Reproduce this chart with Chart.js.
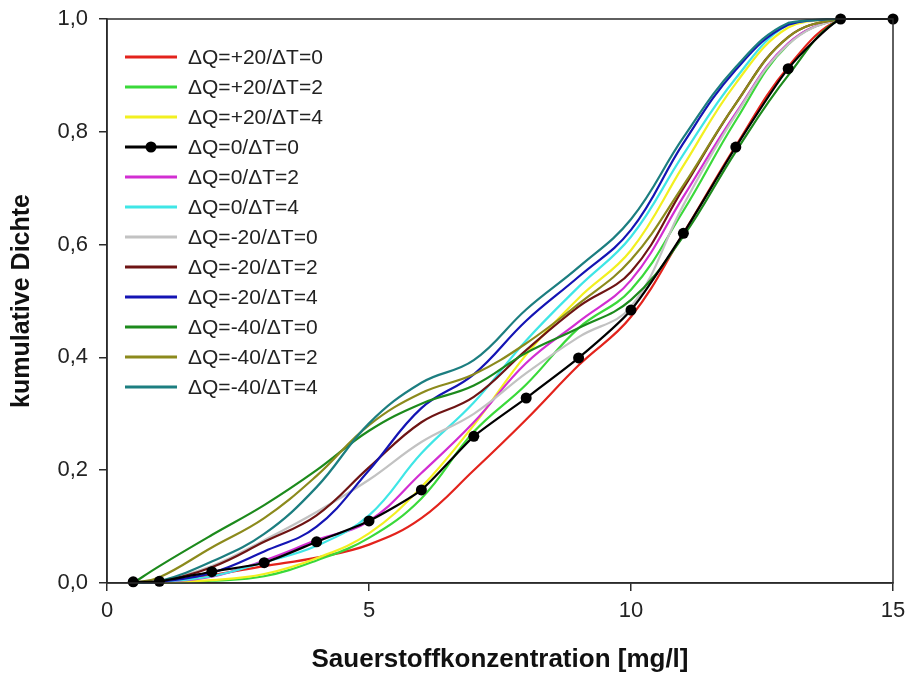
<!DOCTYPE html>
<html>
<head>
<meta charset="utf-8">
<script src="https://cdn.jsdelivr.net/npm/chart.js@4.4.1/dist/chart.umd.min.js"></script>
<style>
    html, body { margin: 0; padding: 0; background: #fff; }
    #box { width: 906px; height: 677px; }
</style>
</head>
<body>
<div id="box"><canvas id="myChart" width="906" height="677"></canvas></div>
<script>
// x values (Sauerstoffkonzentration in mg/l)
var konzentration = [0.5, 1, 2, 3, 4, 5, 6, 7, 8, 9, 10, 11, 12, 13, 14, 15];

// cumulative density per scenario
var q20t0 = [0, 0.002, 0.014, 0.03, 0.045, 0.068, 0.115, 0.20, 0.29, 0.386, 0.472, 0.62, 0.775, 0.915, 1, 1];
var q20t2 = [0, 0.001, 0.004, 0.012, 0.04, 0.08, 0.15, 0.268, 0.352, 0.452, 0.52, 0.66, 0.82, 0.955, 1, 1];
var q20t4 = [0, 0.001, 0.005, 0.016, 0.044, 0.088, 0.17, 0.28, 0.405, 0.505, 0.59, 0.74, 0.886, 0.985, 1, 1];
var q0t0 = [0.002, 0.003, 0.02, 0.036, 0.073, 0.11, 0.165, 0.26, 0.328, 0.399, 0.484, 0.62, 0.773, 0.912, 1, 1];
var q0t2 = [0, 0.002, 0.011, 0.04, 0.076, 0.11, 0.195, 0.285, 0.39, 0.463, 0.537, 0.685, 0.833, 0.957, 1, 1];
var q0t4 = [0, 0.002, 0.012, 0.037, 0.066, 0.12, 0.23, 0.32, 0.43, 0.525, 0.614, 0.76, 0.895, 0.99, 1, 1];
var qm20t0 = [0, 0.003, 0.03, 0.076, 0.126, 0.183, 0.25, 0.30, 0.372, 0.436, 0.49, 0.67, 0.83, 0.955, 1, 1];
var qm20t2 = [0, 0.003, 0.028, 0.073, 0.12, 0.205, 0.285, 0.33, 0.413, 0.49, 0.552, 0.70, 0.85, 0.968, 1, 1];
var qm20t4 = [0, 0.002, 0.018, 0.056, 0.10, 0.20, 0.31, 0.37, 0.465, 0.543, 0.626, 0.78, 0.91, 0.99, 1, 1];
var qm40t0 = [0, 0.03, 0.085, 0.138, 0.2, 0.27, 0.318, 0.35, 0.408, 0.452, 0.502, 0.615, 0.765, 0.90, 1, 1];
var qm40t2 = [0, 0.01, 0.063, 0.115, 0.19, 0.28, 0.337, 0.37, 0.425, 0.495, 0.573, 0.705, 0.85, 0.968, 1, 1];
var qm40t4 = [0, 0.003, 0.038, 0.087, 0.17, 0.283, 0.355, 0.395, 0.485, 0.56, 0.645, 0.79, 0.915, 0.993, 1, 1];

var labels = ['ΔQ=+20/ΔT=0', 'ΔQ=+20/ΔT=2', 'ΔQ=+20/ΔT=4', 'ΔQ=0/ΔT=0', 'ΔQ=0/ΔT=2', 'ΔQ=0/ΔT=4',
    'ΔQ=-20/ΔT=0', 'ΔQ=-20/ΔT=2', 'ΔQ=-20/ΔT=4', 'ΔQ=-40/ΔT=0', 'ΔQ=-40/ΔT=2', 'ΔQ=-40/ΔT=4'];
var series = [q20t0, q20t2, q20t4, q0t0, q0t2, q0t4, qm20t0, qm20t2, qm20t4, qm40t0, qm40t2, qm40t4];
var colors = ['#e3231c', '#3ad93a', '#f2f020', '#000000', '#d22ed2', '#3fe6e6', '#c2c2c2', '#6e1414', '#1414b4', '#1c8a1c', '#8c8a1c', '#1c7e80'];

function toPoints(values) {
    var pts = [];
    for (var i = 0; i < values.length; i++) {
        pts.push({ x: konzentration[i], y: values[i] });
    }
    return pts;
}

var datasets = [];
for (var i = 0; i < series.length; i++) {
    var isBlack = (i === 3);
    datasets.push({
        label: labels[i],
        data: toPoints(series[i]),
        borderColor: colors[i],
        backgroundColor: colors[i],
        borderWidth: 2.2,
        pointRadius: isBlack ? 5.5 : 0,
        pointBackgroundColor: '#000',
        pointBorderWidth: 0,
        tension: isBlack ? 0.2 : 0.4,
        clip: isBlack ? 8 : 2,
        order: isBlack ? 0 : (series.length - i)
    });
}

// frame round the plot and legend inside the plot
var framePlugin = {
    id: 'frame',
    afterDraw: function (chart) {
        var ctx = chart.ctx;
        var a = chart.chartArea;
        ctx.save();
        ctx.strokeStyle = '#2b2b2b';
        ctx.lineWidth = 1.5;
        ctx.strokeRect(a.left, a.top, a.right - a.left, a.bottom - a.top);

        ctx.font = '21px "Liberation Sans", Arial, sans-serif';
        ctx.textBaseline = 'middle';
        var ds = chart.data.datasets;
        for (var i = 0; i < ds.length; i++) {
            var y = 57 + i * 30;
            ctx.strokeStyle = ds[i].borderColor;
            ctx.lineWidth = 3;
            ctx.beginPath();
            ctx.moveTo(125, y);
            ctx.lineTo(177, y);
            ctx.stroke();
            if (ds[i].pointRadius > 0) {
                ctx.fillStyle = '#000';
                ctx.beginPath();
                ctx.arc(151, y, 5.5, 0, Math.PI * 2);
                ctx.fill();
            }
            ctx.fillStyle = '#222';
            ctx.fillText(ds[i].label, 188, y + 1);
        }
        ctx.restore();
    }
};

var myChart = document.getElementById('myChart');
var chart = new Chart(myChart, {
    type: 'line',
    data: { datasets: datasets },
    options: {
        responsive: false,
        animation: false,
        layout: { padding: { left: 0, right: 13, top: 19, bottom: 0 } },
        plugins: {
            legend: { display: false },
            tooltip: { enabled: false }
        },
        scales: {
            x: {
                type: 'linear',
                min: 0,
                max: 15,
                afterFit: function (s) {
                    s.height = 94;
                    s.paddingLeft = 0;
                    s.paddingRight = 0;
                },
                ticks: {
                    stepSize: 5,
                    color: '#222',
                    padding: 7,
                    font: { family: '"Liberation Sans", Arial', size: 22 }
                },
                grid: { drawOnChartArea: false, drawTicks: true, tickLength: 8, color: '#2b2b2b', lineWidth: 1.5 },
                border: { display: true, color: '#2b2b2b', width: 1.5 },
                title: {
                    display: true,
                    text: 'Sauerstoffkonzentration [mg/l]',
                    color: '#111',
                    padding: { top: 0, bottom: 2 },
                    font: { family: '"Liberation Sans", Arial', size: 26, weight: 'bold' }
                }
            },
            y: {
                min: 0,
                max: 1,
                afterFit: function (s) {
                    s.width = 107;
                    s.paddingTop = 0;
                    s.paddingBottom = 0;
                },
                ticks: {
                    stepSize: 0.2,
                    color: '#222',
                    padding: 11,
                    font: { family: '"Liberation Sans", Arial', size: 22 },
                    callback: function (v) { return v.toFixed(1).replace('.', ','); }
                },
                grid: { drawOnChartArea: false, drawTicks: true, tickLength: 8, color: '#2b2b2b', lineWidth: 1.5 },
                border: { display: true, color: '#2b2b2b', width: 1.5 },
                title: {
                    display: true,
                    text: 'kumulative Dichte',
                    color: '#111',
                    padding: { top: 7, bottom: 0 },
                    font: { family: '"Liberation Sans", Arial', size: 25, weight: 'bold' }
                }
            }
        }
    },
    plugins: [framePlugin]
});
</script>
</body>
</html>
